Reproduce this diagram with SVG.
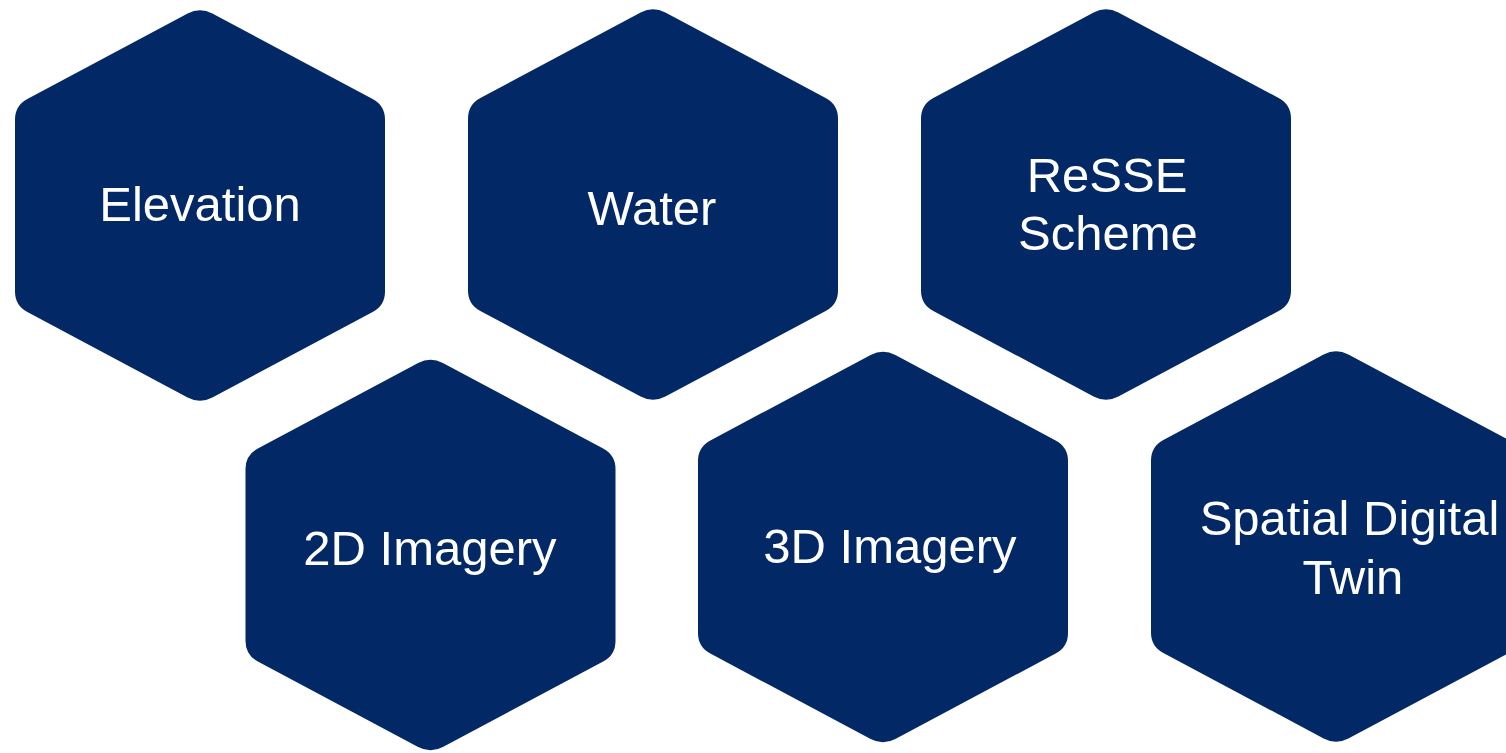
<svg xmlns="http://www.w3.org/2000/svg" width="1506" height="753" viewBox="0 0 1506 753">
  <defs>
    <style>
      .hex { fill: #022865; }
      .lbl { fill: #ffffff; font-family: "Liberation Sans", Arial, sans-serif; font-size: 49px; text-anchor: middle; }
    </style>
    <path id="hexshape" d="M -12.36,-191.92 Q 0,-198.5 12.36,-191.92 L 172.64,-106.58 Q 185,-100 185,-86 L 185,86 Q 185,100 172.64,106.58 L 12.36,191.92 Q 0,198.5 -12.36,191.92 L -172.64,106.58 Q -185,100 -185,86 L -185,-86 Q -185,-100 -172.64,-106.58 Z"/>
  </defs>
  <rect width="1506" height="753" fill="#ffffff"/>
  <g id="connectors"></g>
  <g id="node-elevation">
    <use href="#hexshape" class="hex" transform="translate(200,205.5)"/>
    <text class="lbl" x="200" y="221">Elevation</text>
  </g>
  <g id="node-water">
    <use href="#hexshape" class="hex" transform="translate(653,204.5)"/>
    <text class="lbl" x="652" y="225">Water</text>
  </g>
  <g id="node-resse">
    <use href="#hexshape" class="hex" transform="translate(1106,204.5)"/>
    <text class="lbl" x="1107" y="192">ReSSE</text>
    <text class="lbl" x="1108" y="250">Scheme</text>
  </g>
  <g id="node-2d">
    <use href="#hexshape" class="hex" transform="translate(430.5,555)"/>
    <text class="lbl" x="430" y="565">2D Imagery</text>
  </g>
  <g id="node-3d">
    <use href="#hexshape" class="hex" transform="translate(883,547)"/>
    <text class="lbl" x="890" y="563">3D Imagery</text>
  </g>
  <g id="node-sdt">
    <use href="#hexshape" class="hex" transform="translate(1336,546.5)"/>
    <text class="lbl" x="1349.5" y="535">Spatial Digital</text>
    <text class="lbl" x="1353" y="594">Twin</text>
  </g>
</svg>
